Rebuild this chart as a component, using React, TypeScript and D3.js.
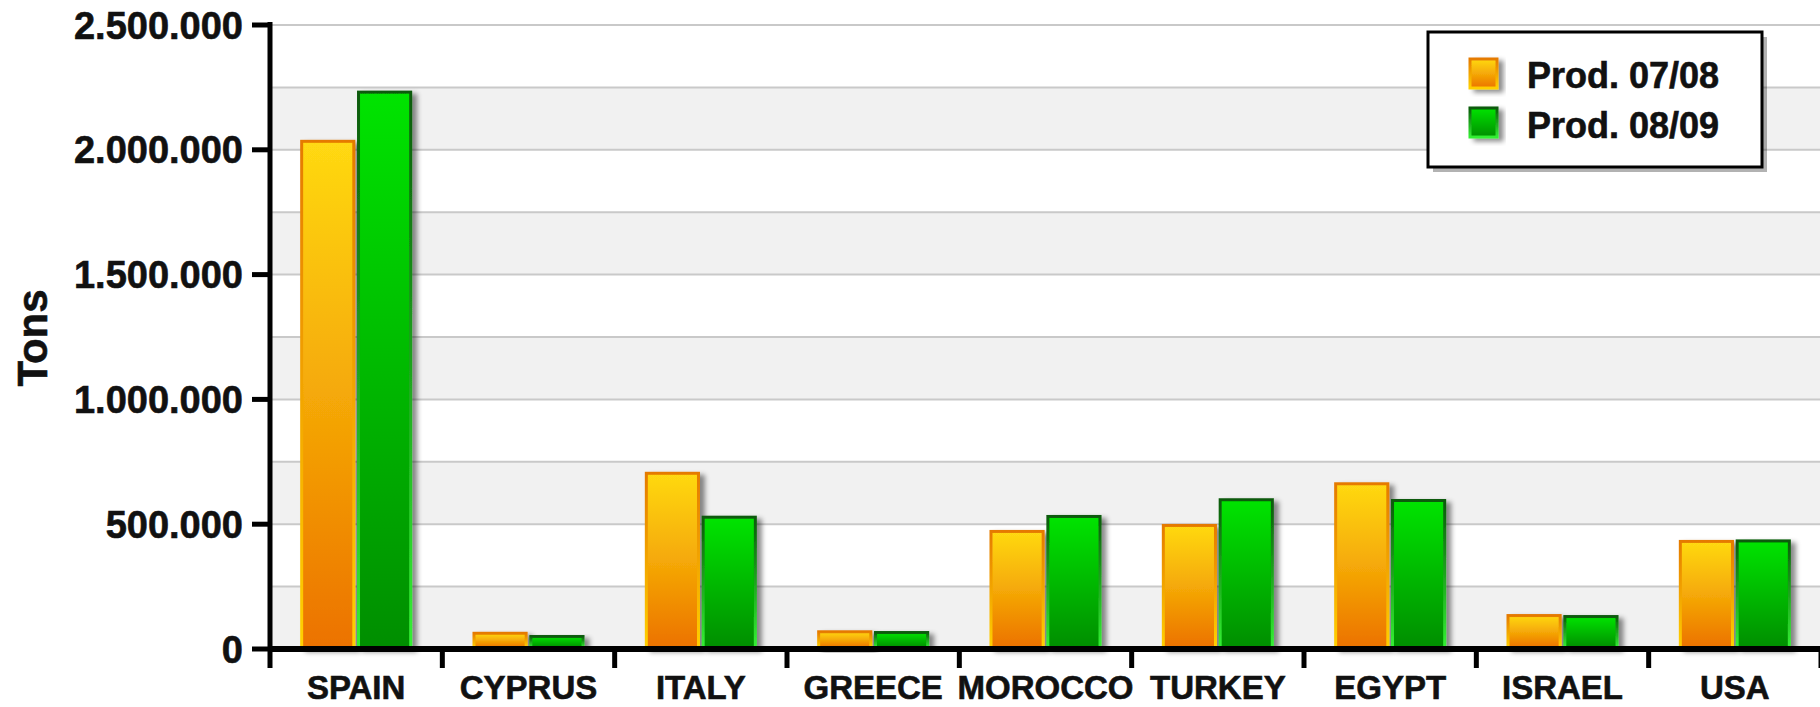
import React from "react";
import * as d3 from "d3";

const categories = ["SPAIN", "CYPRUS", "ITALY", "GREECE", "MOROCCO", "TURKEY", "EGYPT", "ISRAEL", "USA"];
const seriesNames = ["Prod. 07/08", "Prod. 08/09"];
const prod0708 = [2040000, 69000, 710000, 75000, 477000, 501000, 668000, 140000, 437000];
const prod0809 = [2237000, 56000, 534000, 72000, 537000, 604000, 601000, 136000, 439000];
const yTicks = [0, 500000, 1000000, 1500000, 2000000, 2500000];
const bandEdges = [0, 250000, 500000, 750000, 1000000, 1250000, 1500000, 1750000, 2000000, 2250000, 2500000];

const W = 1820;
const H = 707;
const FONT = "'Liberation Sans', Arial, Helvetica, sans-serif";

export default function App() {
  const x0 = d3.scaleBand<string>().domain(categories).range([270, 1821]).paddingInner(0.35).paddingOuter(0.175);
  const x1 = d3.scaleBand<string>().domain(seriesNames).range([0, x0.bandwidth()]).paddingInner(0.03);
  const y = d3.scaleLinear().domain([0, 2500000]).range([649, 25]);
  const fmt = d3.formatLocale({ decimal: ",", thousands: ".", grouping: [3], currency: ["", ""] }).format(",.0f");
  const step = x0.step();
  const left = 270;
  const right = 1821;

  const series = [
    { name: seriesNames[0], values: prod0708, fill: "url(#gOrange)", stroke: "url(#sOrange)" },
    { name: seriesNames[1], values: prod0809, fill: "url(#gGreen)", stroke: "url(#sGreen)" },
  ];

  const textStyle = { stroke: "#111", strokeWidth: 0.6 };

  return (
    <svg width={W} height={H} style={{ position: "absolute", left: 0, top: 0, background: "#fff" }} fontFamily={FONT}>
      <defs>
        <linearGradient id="gOrange" x1="0" y1="0" x2="0" y2="1">
          <stop offset="0" stopColor="#FFD912" />
          <stop offset="0.55" stopColor="#F4A406" />
          <stop offset="1" stopColor="#EC7200" />
        </linearGradient>
        <linearGradient id="sOrange" x1="0" y1="0" x2="0" y2="1">
          <stop offset="0" stopColor="#E57A00" />
          <stop offset="1" stopColor="#FFD000" />
        </linearGradient>
        <linearGradient id="gGreen" x1="0" y1="0" x2="0" y2="1">
          <stop offset="0" stopColor="#00E400" />
          <stop offset="1" stopColor="#008E00" />
        </linearGradient>
        <linearGradient id="sGreen" x1="0" y1="0" x2="0" y2="1">
          <stop offset="0" stopColor="#0A5A0A" />
          <stop offset="1" stopColor="#33F033" />
        </linearGradient>
        <filter id="shadow" x="-20%" y="-20%" width="150%" height="150%">
          <feDropShadow dx="5" dy="3" stdDeviation="2.5" floodColor="#000" floodOpacity="0.45" />
        </filter>
      </defs>

      {/* alternating bands */}
      {bandEdges.slice(0, -1).map((v, i) => (
        <rect key={"b" + i} x={left} y={y(bandEdges[i + 1])} width={right - left} height={y(v) - y(bandEdges[i + 1])}
          fill={i % 2 === 0 ? "#F1F1F1" : "#FFFFFF"} />
      ))}
      {/* grid lines */}
      {bandEdges.slice(1).map((v, i) => (
        <line key={"g" + i} x1={left} x2={right} y1={y(v)} y2={y(v)} stroke="#C9C9C9" strokeWidth={2} />
      ))}

      {/* bars */}
      {categories.map((c, ci) => (
        <g key={c} transform={`translate(${x0(c)},0)`}>
          {series.map((s) => {
            const v = s.values[ci];
            const bx = x1(s.name)!;
            const by = y(v);
            const bh = y(0) - by;
            return (
              <rect key={s.name} x={bx + 1.5} y={by + 1.5} width={x1.bandwidth() - 3} height={Math.max(bh - 3, 1)}
                fill={s.fill} stroke={s.stroke} strokeWidth={3} filter="url(#shadow)" />
            );
          })}
        </g>
      ))}

      {/* y axis */}
      <line x1={left} x2={left} y1={22} y2={668} stroke="#000" strokeWidth={5} />
      {yTicks.map((t) => (
        <g key={"yt" + t}>
          <line x1={252} x2={left} y1={y(t)} y2={y(t)} stroke="#000" strokeWidth={5} />
          <text x={243} y={y(t)} dy="0.36em" textAnchor="end" fontSize={38} fontWeight="bold" fill="#111" style={textStyle}>
            {fmt(t)}
          </text>
        </g>
      ))}
      <text transform={`translate(47,338) rotate(-90)`} textAnchor="middle" fontSize={42} fontWeight="bold" fill="#111" style={textStyle}>
        Tons
      </text>

      {/* x axis */}
      <line x1={left - 2} x2={W} y1={649} y2={649} stroke="#000" strokeWidth={6} />
      {categories.map((c, i) => (
        <line key={"xt" + c} x1={left + (i + 1) * step} x2={left + (i + 1) * step} y1={649} y2={668} stroke="#000" strokeWidth={5} />
      ))}
      {categories.map((c) => (
        <text key={"xl" + c} x={x0(c)! + x0.bandwidth() / 2} y={699} textAnchor="middle" fontSize={33} fontWeight="bold" fill="#111" style={textStyle}>
          {c}
        </text>
      ))}

      {/* legend */}
      <rect x={1433} y={37} width={334} height={135} fill="#000" opacity={0.3} />
      <rect x={1428} y={32} width={334} height={135} fill="#fff" stroke="#000" strokeWidth={3} />
      {series.map((s, i) => (
        <g key={"lg" + i}>
          <rect x={1470} y={59 + i * 49} width={27} height={29} fill={s.fill} stroke={s.stroke} strokeWidth={3} filter="url(#shadow)" />
          <text x={1527} y={88 + i * 50} fontSize={36} fontWeight="bold" fill="#111" style={textStyle}>{s.name}</text>
        </g>
      ))}
    </svg>
  );
}
